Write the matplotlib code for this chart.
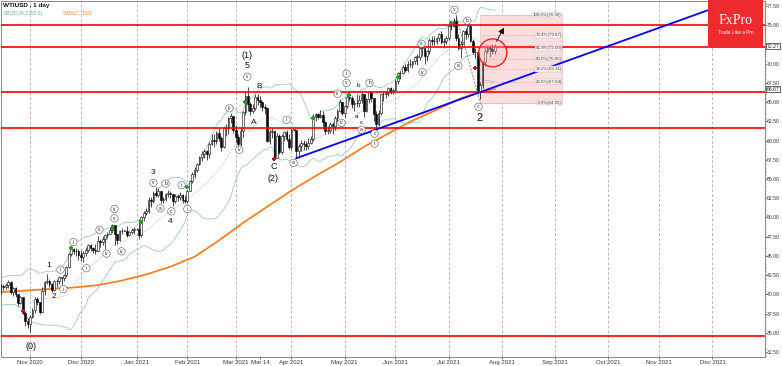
import numpy as np
import pandas as pd
import matplotlib
matplotlib.use("Agg")
import matplotlib.pyplot as plt
from matplotlib.patches import Rectangle, Ellipse

plt.rcParams['font.family'] = ['Liberation Sans', 'DejaVu Sans']

# daily bars WTIUSD, 15 Oct 2020 .. 28 Jul 2021 (weekday index)
start_date = '2020-10-15'
first_open = 41.0

highs = [
    41.3, 41.4, 41.5, 41.9, 41.7, 41.0, 40.9, 40.0, 39.8, 39.5, 37.8, 36.9,
    37.3, 38.2, 39.6, 39.7, 39.0, 41.0, 41.8, 42.6, 42.0, 41.5, 41.9, 42.0, 42.4, 42.3, 42.7, 43.7, 45.4, 46.2, 46.0, 46.0, 45.9,
    45.8, 45.6, 46.1, 46.6, 46.6, 46.2, 46.6, 47.6, 47.2, 47.6, 47.9, 48.1, 48.6, 49.2, 48.9, 47.9, 48.4, 48.6, 48.4, 48.9, 48.3, 48.6, 48.7,
    48.6, 49.8, 50.2, 50.9, 51.2, 52.7, 52.7, 53.4, 53.9, 53.8, 53.4, 52.7, 53.2, 53.6, 53.5, 52.9, 53.0, 53.1, 53.3, 53.0, 52.9,
    53.6, 54.9, 55.9, 56.6, 57.1, 58.0, 58.6, 58.9, 58.8, 59.8, 60.8, 60.9, 61.3, 61.7, 60.6, 61.9, 62.2, 63.1, 63.6, 63.1,
    62.0, 60.8, 61.7, 63.9, 66.3, 67.0, 65.0, 64.8, 66.0, 66.1, 65.8, 65.2, 64.8, 64.2, 61.5, 61.7, 61.2, 61.0, 60.8, 60.8, 61.3, 61.4, 60.9,
    61.7, 61.5, 61.3, 59.6, 60.1, 60.1, 60.0, 60.3, 60.6, 63.4, 63.6, 63.5, 64.0, 63.8, 62.5, 61.9, 62.4, 62.4, 63.2, 64.1, 65.4, 65.0,
    64.6, 66.0, 66.4, 65.8, 65.3, 66.0, 65.9, 66.4, 66.0, 65.6, 66.5, 66.3, 65.6, 63.8, 64.0, 66.1, 66.5, 66.4, 67.0, 67.0, 66.8,
    68.0, 68.9, 69.0, 69.8, 69.9, 70.4, 70.6, 70.4, 71.0, 71.3, 72.2, 72.6, 72.0, 71.8, 73.3, 73.6, 73.6, 73.5, 74.0, 74.3, 73.4, 73.6,
    75.2, 75.3, 76.0, 76.36, 73.8, 73.0, 74.4, 74.6, 75.1, 75.0, 73.2, 72.0, 71.5, 67.6, 70.4, 72.0, 72.4, 72.4, 72.5, 72.6,
]
lows = [
    40.0, 40.6, 40.7, 40.8, 40.1, 39.8, 39.7, 38.5, 38.7, 37.4, 35.9, 35.6,
    35.1, 36.9, 37.6, 38.6, 37.5, 37.7, 39.9, 41.4, 40.9, 40.3, 40.4, 41.0, 41.3, 41.2, 41.7, 42.3, 43.4, 45.0, 45.3, 45.0, 44.5,
    44.3, 44.2, 45.0, 45.5, 45.6, 45.4, 45.2, 45.7, 46.2, 46.4, 45.9, 47.3, 47.8, 48.0, 46.4, 46.5, 46.9, 47.9, 48.2, 47.5, 47.6, 47.9, 47.9,
    48.4, 47.2, 47.5, 49.5, 50.3, 50.6, 51.3, 51.9, 52.6, 52.6, 51.9, 51.9, 52.1, 52.6, 52.5, 51.5, 51.9, 52.2, 52.3, 51.9, 51.9,
    51.9, 53.4, 54.5, 55.2, 55.9, 56.8, 57.4, 57.8, 57.5, 57.8, 59.4, 59.2, 59.6, 60.0, 58.7, 59.0, 60.6, 60.9, 62.3, 61.0,
    59.8, 59.3, 59.3, 60.5, 63.3, 63.8, 63.3, 63.6, 64.0, 64.6, 64.4, 63.8, 63.4, 59.8, 59.6, 60.3, 57.5, 57.8, 58.2, 58.3, 59.9, 59.9, 58.9,
    58.8, 61.3, 57.7, 57.8, 58.6, 58.8, 58.8, 58.9, 59.5, 60.0, 62.5, 62.8, 62.9, 61.6, 60.9, 60.9, 61.0, 60.9, 61.4, 62.6, 63.7, 63.3,
    63.1, 64.3, 65.1, 64.2, 63.8, 64.4, 64.4, 64.9, 63.1, 63.7, 64.9, 65.0, 62.5, 61.6, 61.9, 63.3, 65.2, 65.6, 65.8, 66.0, 66.1,
    66.3, 67.4, 68.0, 68.6, 68.9, 68.9, 69.6, 69.4, 69.9, 69.8, 70.5, 71.0, 70.0, 70.3, 71.2, 72.4, 72.4, 72.5, 72.9, 72.6, 72.1, 72.6,
    73.1, 74.4, 74.8, 72.9, 71.8, 70.8, 72.5, 73.2, 73.5, 72.8, 71.2, 70.8, 66.0, 65.4, 66.8, 69.7, 71.4, 70.9, 71.2, 71.3,
]
closes = [
    41.1, 41.0, 41.2, 41.6, 40.3, 40.8, 40.0, 38.9, 39.6, 37.6, 36.6, 36.2,
    37.0, 38.0, 39.4, 39.0, 37.7, 40.5, 41.6, 41.8, 41.4, 40.6, 41.7, 41.8, 42.2, 42.1, 42.5, 43.5, 45.3, 45.9, 45.7, 45.6, 45.1,
    44.9, 45.4, 45.8, 46.4, 46.0, 45.8, 45.7, 47.0, 46.8, 47.2, 47.7, 47.9, 48.4, 49.0, 47.8, 47.1, 48.2, 48.3, 48.3, 47.7, 48.1, 48.4, 48.5,
    48.5, 47.7, 50.0, 50.6, 50.8, 52.3, 52.2, 53.2, 52.9, 53.5, 52.3, 52.4, 53.0, 53.2, 53.1, 52.2, 52.8, 52.6, 52.9, 52.3, 52.2,
    53.5, 54.8, 55.7, 56.2, 56.9, 57.9, 58.3, 58.6, 58.2, 59.5, 60.1, 60.0, 61.0, 60.4, 59.2, 61.6, 61.6, 63.0, 63.2, 61.4,
    60.5, 59.6, 61.2, 63.7, 65.8, 64.7, 63.9, 64.2, 65.7, 65.3, 65.0, 64.4, 64.2, 60.0, 61.1, 61.2, 57.8, 60.6, 58.5, 60.6, 61.1, 60.2, 59.2,
    61.4, 61.4, 58.6, 59.3, 59.7, 59.5, 59.3, 59.7, 60.2, 63.1, 63.4, 63.1, 63.3, 62.4, 61.3, 61.4, 62.1, 61.9, 62.9, 63.8, 65.0, 63.6,
    64.5, 65.7, 65.6, 64.7, 64.9, 64.9, 65.3, 66.1, 63.8, 65.4, 66.3, 65.5, 63.4, 62.1, 63.6, 66.0, 66.1, 66.2, 66.8, 66.3, 66.6,
    67.7, 68.8, 68.8, 69.6, 69.2, 70.0, 69.9, 70.3, 70.9, 70.9, 72.1, 72.1, 71.0, 71.6, 73.1, 72.9, 73.0, 73.3, 73.9, 72.8, 72.9, 73.3,
    74.9, 74.9, 75.6, 73.3, 72.1, 72.6, 74.2, 73.9, 74.9, 72.9, 71.5, 71.5, 66.3, 67.2, 70.2, 71.7, 72.1, 71.9, 71.7, 72.27,
]
# closes before the first visible bar (Bollinger warm-up)
prior_closes = [41.6, 39.8, 40.3, 40.4, 40.8, 40.7, 41.1, 39.8, 40.7, 39.2,
                37.6, 39.7, 41.2, 40.4, 41.7, 41.1, 39.9, 40.7, 41.5]

# SMA(200)
sma_bars = [0, 10, 20, 30, 40, 50, 60, 70, 80, 90, 100, 110, 120, 130, 140, 150, 160, 170, 180, 190, 200, 204]
sma_vals = [40.3, 40.5, 40.7, 40.9, 41.2, 41.8, 42.6, 43.6, 44.9, 47.0, 49.3, 51.4,
            53.5, 55.4, 57.2, 59.2, 60.9, 62.6, 64.0, 65.5, 66.5, 66.7]

red_levels = [75.0, 72.2, 66.3, 61.65, 34.6]
trend_pts = [('2021-04-05', 57.7), ('2021-07-20', 66.3)]

fib_ratios = [0.0, 0.236, 0.382, 0.5, 0.618, 0.764, 1.0]
fib_low, fib_high = 64.95, 76.36
fib_start, fib_end, fib_peak = '2021-07-20', '2021-09-06', '2021-07-06'

green_bars = [29, 46, 58, 77, 101, 129, 144, 164, 186]
green_px = [46.0, 48.6, 49.4, 53.9, 65.0, 62.9, 65.9, 68.3, 75.3]
red_bars = [9, 113, 196]
red_px = [37.9, 57.6, 69.4]

plain_labels = [('(0)', 12.6, 33.2, 6.5), ('1', 19.6, 43.8, 6), ('2', 21.7, 39.7, 6),
                ('3', 63.0, 55.8, 6), ('4', 70.0, 49.5, 6), ('(1)', 101.8, 71.0, 6.5),
                ('5', 101.8, 69.8, 6.5), ('A', 104.3, 62.4, 6), ('B', 106.8, 67.0, 6),
                ('C', 112.6, 56.6, 6.5), ('(2)', 112.6, 55.1, 6.5), ('2', 197.7, 63.0, 8),
                ('a', 146.9, 63.1, 4.5), ('b', 147.7, 67.2, 4.5), ('c', 148.9, 62.4, 4.5)]
circle_labels = [('i', 24.6, 43.2), ('ii', 25.8, 40.7), ('i', 29.9, 46.8), ('ii', 35.3, 43.4),
                 ('iii', 40.7, 48.4), ('iv', 43.6, 45.3), ('iii', 46.9, 51.1), ('v', 46.9, 49.9),
                 ('iv', 49.8, 45.6), ('v', 63.0, 54.5), ('a', 65.9, 51.2), ('b', 68.0, 54.4),
                 ('c', 70.4, 50.8), ('i', 74.6, 54.2), ('ii', 77.0, 51.1), ('iii', 94.4, 64.2),
                 ('iv', 98.5, 58.8), ('v', 101.8, 68.3), ('i', 118.0, 62.7), ('a', 120.9, 57.1),
                 ('iii', 139.1, 66.1), ('iv', 140.7, 62.3), ('i', 142.8, 68.7), ('v', 142.8, 67.5),
                 ('b', 152.3, 67.5), ('a', 149.0, 61.4), ('c', 154.4, 60.9), ('ii', 154.4, 59.6),
                 ('iii', 173.8, 72.6), ('iv', 174.2, 68.9), ('v', 187.4, 77.0), ('a', 189.0, 69.7),
                 ('b', 192.7, 75.6), ('c', 197.3, 64.4)]

days = pd.bdate_range(start_date, '2021-12-31')
def pos(d):
    return days.searchsorted(pd.Timestamp(d))

n = len(closes)
xs = np.arange(n)
c = np.array(closes)
o = np.array([first_open] + closes[:-1])
h = np.array(highs)
l = np.array(lows)

allc = pd.Series(prior_closes + closes)
mid = allc.rolling(20).mean().values[-n:]
sd = allc.rolling(20).std(ddof=0).values[-n:]

fig = plt.figure(figsize=(7.82, 3.66), dpi=100)
ax = fig.add_axes([1 / 782, 9 / 366, 764 / 782, 356 / 366])
ax.set_xlim(0.0, 315.7)
ax.set_ylim(31.86, 78.15)

# month grid + ticks
months = pd.date_range('2020-11-01', '2021-12-01', freq='MS')
mpos = [pos(m) for m in months]
for p in mpos:
    ax.axvline(p, color='#9a9a9a', lw=0.5, ls=(0, (4, 3)), zorder=0)
tpos = mpos[:5] + [pos('2021-03-15')] + mpos[5:]
tlab = [m.strftime('%b %Y') for m in months[:5]] + ['Mar 14'] + [m.strftime('%b %Y') for m in months[5:]]
ax.set_xticks(tpos)
ax.set_xticklabels(tlab)

# fib box
fx0, fx1 = pos(fib_start), pos(fib_end)
ax.add_patch(Rectangle((fx0, fib_low), fx1 - fx0, fib_high - fib_low, fc='#fbdede', ec='#f3b9b9',
                       lw=0.4, zorder=0.5))
for r in fib_ratios:
    lv = fib_low + r * (fib_high - fib_low)
    ax.plot([fx0, fx1], [lv, lv], color='#d88f8f', lw=0.5, ls=(0, (1, 1.5)), zorder=0.6)
    ax.text(fx1 - 0.3, lv, '%.1f%%(%.2f)' % (r * 100, lv), fontsize=3.2, color='#444',
            ha='right', va='center', zorder=6,
            bbox=dict(boxstyle='square,pad=0.15', fc='#fdf0f0', ec='#bbbbbb', lw=0.3))
ax.plot([pos(fib_peak), fx0], [fib_high, fib_low], color='#555', lw=0.5, ls=(0, (3, 2)), zorder=5)

# bollinger bands, sma
ax.plot(xs, mid + 2 * sd, color='#9cc7c9', lw=0.6, zorder=1)
ax.plot(xs, mid - 2 * sd, color='#9cc7c9', lw=0.6, zorder=1)
ax.plot(xs, mid, color='#9a9a9a', lw=0.5, ls=(0, (1, 1.5)), zorder=1)
ax.plot(sma_bars, sma_vals, color='#ff7f1e', lw=1.3, zorder=2)

# candles
up = c >= o
ax.vlines(xs, l, h, color='black', lw=0.5, zorder=3)
ax.bar(xs, np.maximum(np.abs(c - o), 0.05), bottom=np.minimum(o, c), width=0.72,
       color=np.where(up, 'white', 'black'), edgecolor='black', linewidth=0.4, zorder=4)
ax.scatter(green_bars, green_px, marker='P', s=6, color='#1aa01a', lw=0, zorder=5)
ax.scatter(red_bars, red_px, marker='P', s=6, color='#c01010', lw=0, zorder=5)

# levels and trend line
for lv in red_levels:
    ax.axhline(lv, color='#ff0000', lw=1.2, zorder=5)
(d1, p1), (d2, p2) = trend_pts
b1, b2 = pos(d1), pos(d2)
slope = (p2 - p1) / (b2 - b1)
ax.plot([b1, 330], [p1, p1 + slope * (330 - b1)], color='#0000ff', lw=1.3, zorder=5)

# target circle and arrow
ax.add_patch(Ellipse((203.2, 71.4), 11.6, 3.64, fc=(1, 0.75, 0.75, 0.35), ec='#ff1a1a', lw=1.0, zorder=6))
ax.annotate('', xy=(208.4, 75.0), xytext=(204.2, 72.6),
            arrowprops=dict(arrowstyle='-|>,head_length=0.35,head_width=0.18', color='black', lw=0.6),
            zorder=7)

# wave labels
for t, bx, py, fs in plain_labels:
    ax.text(bx, py, t, fontsize=fs, ha='center', va='center', color='#111', zorder=7)
for t, bx, py in circle_labels:
    ax.text(bx, py, t, fontsize=3.5, ha='center', va='center', color='#222', zorder=7,
            bbox=dict(boxstyle='circle,pad=0.25', fc='white', ec='#555', lw=0.4))

# axes styling
ax.yaxis.tick_right()
yt = np.arange(32.5, 77.6, 2.5)
ax.set_yticks(yt)
ax.set_yticklabels(['' if abs(v - 72.5) < 0.01 else '%.2f' % v for v in yt])
ax.set_yticks(np.arange(32.0, 78.1, 0.5), minor=True)
ax.tick_params(axis='y', which='major', labelsize=3.7, length=1.2, width=0.5, pad=0.4, colors='#333')
ax.tick_params(axis='y', which='minor', length=0.7, width=0.4, colors='#555')
ax.tick_params(axis='x', labelsize=4.3, length=1.5, width=0.5, pad=0.8, colors='#333')
for s in ax.spines.values():
    s.set_color('#888')
    s.set_linewidth(0.7)
yb = ax.get_yaxis_transform()
for v in [72.27, 66.67]:
    ax.text(1.002, v, '%.2f' % v, transform=yb, fontsize=3.7, ha='left', va='center', color='#222',
            bbox=dict(boxstyle='square,pad=0.12', fc='white', ec='#222', lw=0.5), clip_on=False)

# header texts
fig.text(3 / 782, 1 - 6 / 366, 'WTIUSD , 1 day', fontsize=4.6, fontweight='bold', va='center', color='#111')
fig.text(4 / 782, 1 - 13 / 366, 'BB(20,20,2.0/2.0)', fontsize=3.6, va='center', color='#6ea9b2')
fig.text(63 / 782, 1 - 13 / 366, 'SMA(C, 200)', fontsize=3.6, va='center', color='#f08a3a')

# FxPro badge
fig.add_artist(Rectangle((708 / 782, 1 - 48 / 366), 55 / 782, 48 / 366, transform=fig.transFigure,
                         fc='#ee2a2e', ec='none', zorder=10))
fig.text(735.5 / 782, 1 - 21 / 366, 'FxPro', fontsize=10, family='Liberation Serif', color='white',
         ha='center', va='center', zorder=11)
fig.text(735.5 / 782, 1 - 32 / 366, 'Trade Like a Pro', fontsize=3.4, color='white',
         ha='center', va='center', zorder=11)

fig.savefig('out.png', dpi=100)
